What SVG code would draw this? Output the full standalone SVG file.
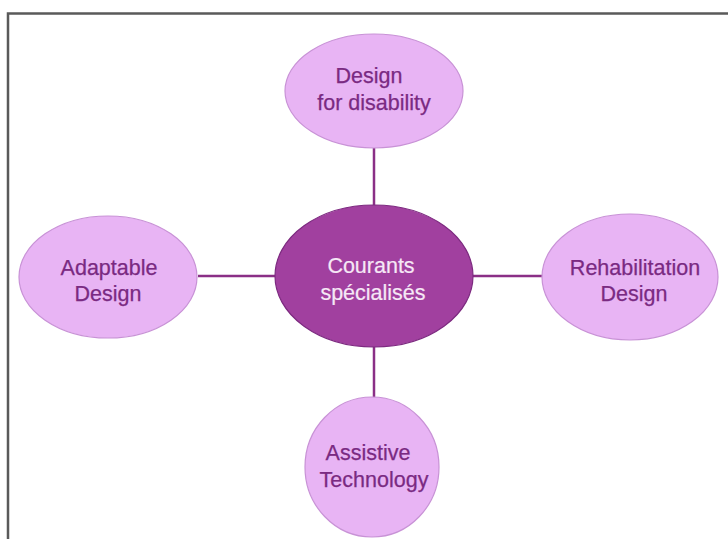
<svg xmlns="http://www.w3.org/2000/svg" width="728" height="539" viewBox="0 0 728 539">
<style>
.n{fill:#e8b4f4;stroke:#c892d6;stroke-width:1.2}
.c{fill:#a1409f;stroke:#7d2a80;stroke-width:1.2}
.t{font-family:"Liberation Sans",Arial,sans-serif;font-size:21.5px;fill:#7a2a82;stroke:#7a2a82;stroke-width:0.25;text-anchor:middle}
.tc{font-family:"Liberation Sans",Arial,sans-serif;font-size:21.5px;fill:#f6e8f6;stroke:#f6e8f6;stroke-width:0.2;text-anchor:middle}
.e{stroke:#8a2f86;stroke-width:2.5;fill:none}
</style>
<rect width="728" height="539" fill="#fff"/>
<path d="M8 539V13.5H728" fill="none" stroke="#5a5a5a" stroke-width="2.5"/>
<g id="connectors">
<line class="e" x1="374" y1="147" x2="374" y2="205"/>
<line class="e" x1="374" y1="347" x2="374" y2="398"/>
<line class="e" x1="198" y1="276" x2="275" y2="276"/>
<line class="e" x1="473" y1="276" x2="543" y2="276"/>
</g>
<g id="top"><ellipse class="n" cx="374" cy="91" rx="89" ry="57"/><text class="t" x="369" y="83">Design</text><text class="t" x="374" y="110">for disability</text></g>
<g id="center"><ellipse class="c" cx="374" cy="276" rx="99" ry="71"/><text class="tc" x="371" y="273">Courants</text><text class="tc" x="373" y="300">spécialisés</text></g>
<g id="left"><ellipse class="n" cx="108" cy="277" rx="89" ry="61"/><text class="t" x="109" y="275">Adaptable</text><text class="t" x="108" y="301">Design</text></g>
<g id="right"><ellipse class="n" cx="630" cy="277" rx="88" ry="63"/><text class="t" x="635" y="275">Rehabilitation</text><text class="t" x="634" y="301">Design</text></g>
<g id="bottom"><ellipse class="n" cx="372" cy="467" rx="67" ry="70"/><text class="t" x="368" y="460">Assistive</text><text class="t" x="374" y="487">Technology</text></g>
</svg>
